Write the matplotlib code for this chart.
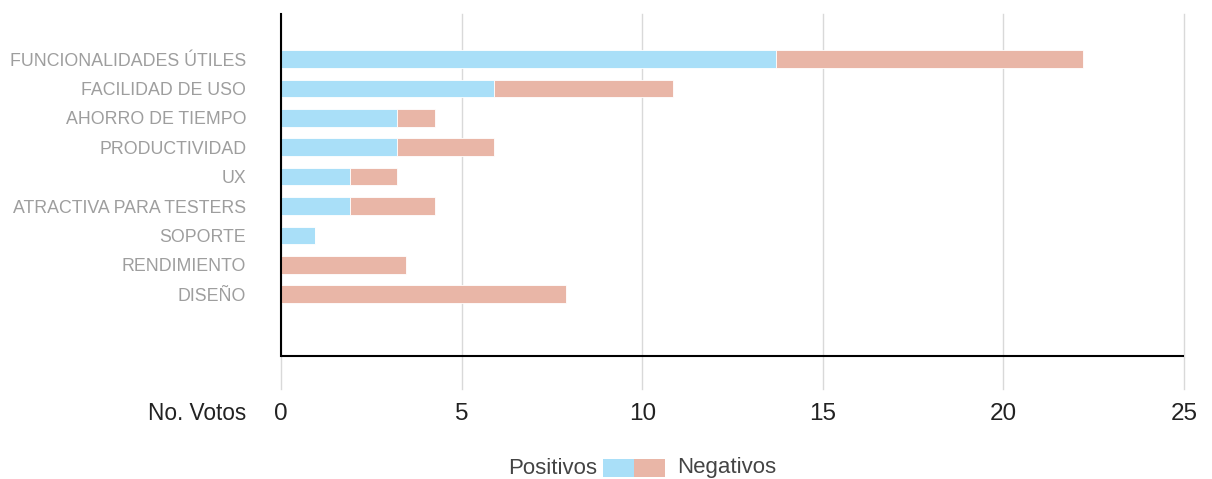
import matplotlib.pyplot as plt
from matplotlib.patches import Rectangle

categorias = ['FUNCIONALIDADES ÚTILES', 'FACILIDAD DE USO', 'AHORRO DE TIEMPO',
              'PRODUCTIVIDAD', 'UX', 'ATRACTIVA PARA TESTERS', 'SOPORTE',
              'RENDIMIENTO', 'DISEÑO']
positivos = [13.7, 5.9, 3.2, 3.2, 1.9, 1.9, 0.95, 0, 0]
negativos = [8.5, 4.95, 1.05, 2.7, 1.3, 2.35, 0, 3.45, 7.9]
ticks_x = [0, 5, 10, 15, 20, 25]

color_pos = '#a9dff8'
color_neg = '#e9b6a7'

plt.rcParams['font.family'] = ['Liberation Sans', 'DejaVu Sans']

fig = plt.figure(figsize=(12.12, 4.79), dpi=100)
W, H = 1212, 479
ax = fig.add_axes([281 / W, 1 - 389 / H, (1184 - 281) / W, (389 - 14) / H])

y = list(range(len(categorias)))
ax.barh(y, positivos, height=0.6, color=color_pos, edgecolor='white', linewidth=0.6, zorder=3)
ax.barh(y, negativos, left=positivos, height=0.6, color=color_neg, edgecolor='white',
        linewidth=0.6, zorder=3)

base = 10.1
ax.set_ylim(11.22, -1.53)
ax.set_xlim(0, 25)

ax.set_yticks(y)
ax.set_yticklabels(categorias, fontsize=12.8, color='#9e9e9e')
ax.set_xticks(ticks_x)
ax.set_xticklabels([str(t) for t in ticks_x], fontsize=17.5, color='#222222')
ax.tick_params(axis='y', length=0, pad=25)
ax.tick_params(axis='x', length=0, pad=10)

ax.grid(axis='x', color='#d9d9d9', linewidth=1, zorder=0)
for g in ax.get_xgridlines():
    g.set_clip_on(False)
ax.set_axisbelow(True)

for s in ['top', 'right', 'bottom']:
    ax.spines[s].set_visible(False)
# linea base del eje x por encima del borde inferior
ax.axhline(base, color='black', linewidth=1.5, zorder=4)
ax.spines['left'].set_bounds(-1.53, base)
ax.spines['left'].set_linewidth(1.5)
ax.spines['left'].set_zorder(4)

fig.text(246 / W, 1 - 414 / H, 'No. Votos', ha='right', va='center', fontsize=16.3,
         color='#222222')

# leyenda con muestra de dos colores
ly = 1 - 468 / H
fig.text(597 / W, ly, 'Positivos', ha='right', va='center', fontsize=16, color='#444444')
fig.text(677 / W, ly, 'Negativos', ha='left', va='center', fontsize=16, color='#444444')
fig.patches.append(Rectangle((603 / W, 1 - 477 / H), 31 / W, 18 / H, transform=fig.transFigure,
                             facecolor=color_pos, edgecolor='none'))
fig.patches.append(Rectangle((634 / W, 1 - 477 / H), 31 / W, 18 / H, transform=fig.transFigure,
                             facecolor=color_neg, edgecolor='none'))

fig.savefig('out.png', dpi=100, facecolor='white')
